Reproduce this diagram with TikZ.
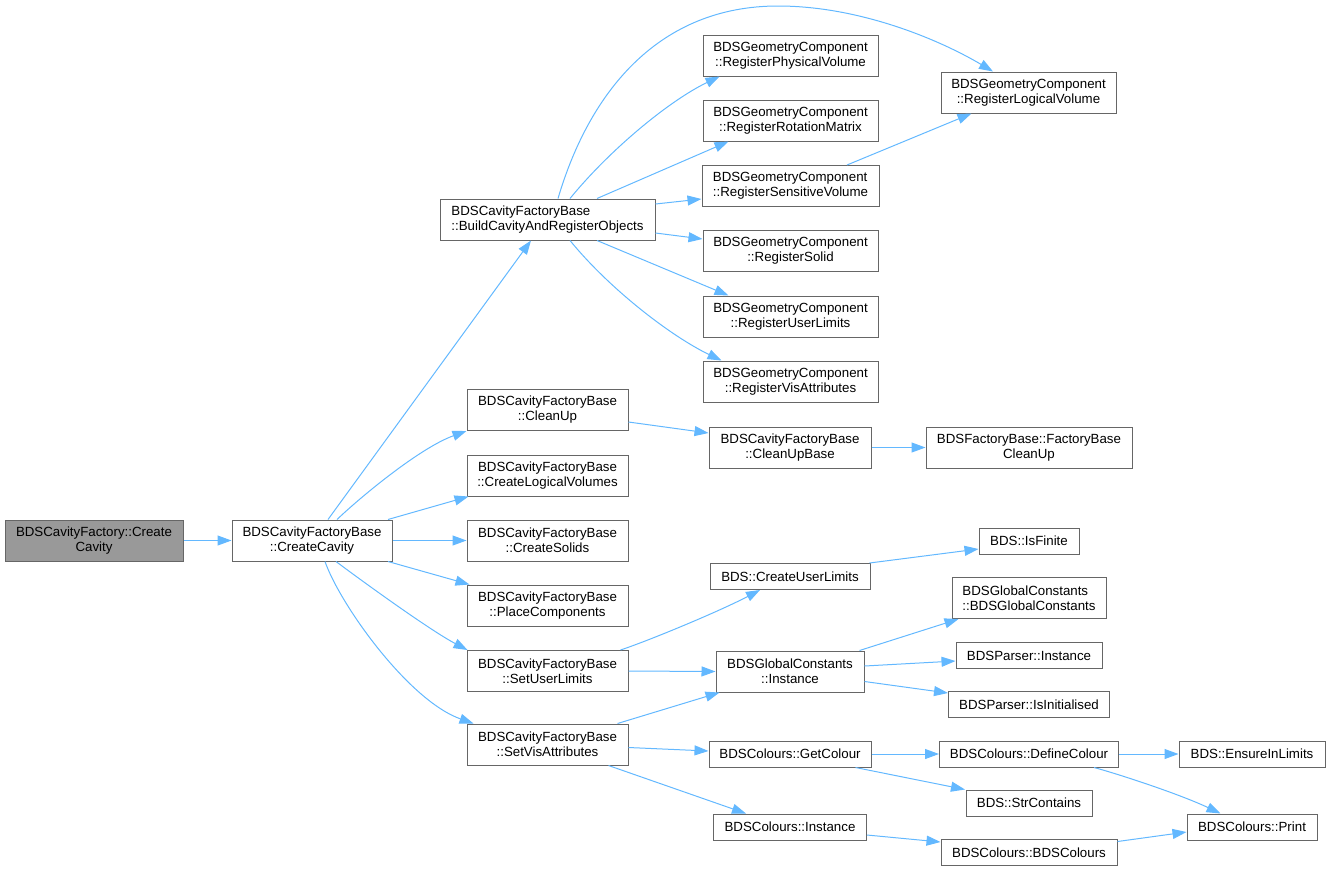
\documentclass[tikz,border=0pt]{standalone}
\usepackage{fontspec}
\setmainfont{Liberation Sans}
\usetikzlibrary{arrows.meta}
\definecolor{edgeblue}{HTML}{63B8FF}
\definecolor{boxgray}{HTML}{666666}
\definecolor{rootgray}{HTML}{999999}
\newcommand\boxfont{\fontsize{13.3}{15}\selectfont}
\tikzset{
  box/.style={draw=boxgray, fill=white, line width=1pt, inner sep=0pt, align=center, font=\boxfont},
  lbox/.style={box, align=left},
  two/.style={minimum height=41pt},
  one/.style={minimum height=26pt},
  edge/.style={draw=edgeblue, line width=1pt, -{Triangle[length=14pt,width=10pt]}}
}
\begin{document}
\begin{tikzpicture}[x=1pt,y=-1pt]
\useasboundingbox (0,0) rectangle (1330,871);
% nodes
\node[box,two,minimum width=178pt,fill=rootgray] (root) at (94,540.5) {BDSCavityFactory::Create\\Cavity};
\node[box,two,minimum width=160pt] (cc) at (312,540.5) {BDSCavityFactoryBase\\::CreateCavity};
\node[lbox,two,minimum width=215pt] (build) at (547.5,219.5) {BDSCavityFactoryBase\\::BuildCavityAndRegisterObjects};
\node[box,two,minimum width=161pt] (cleanup) at (547.5,410) {BDSCavityFactoryBase\\::CleanUp};
\node[box,two,minimum width=161pt] (clv) at (547.5,475.5) {BDSCavityFactoryBase\\::CreateLogicalVolumes};
\node[box,two,minimum width=161pt] (solids) at (547.5,540.5) {BDSCavityFactoryBase\\::CreateSolids};
\node[box,two,minimum width=161pt] (place) at (547.5,605.5) {BDSCavityFactoryBase\\::PlaceComponents};
\node[box,two,minimum width=161pt] (sul) at (547.5,671) {BDSCavityFactoryBase\\::SetUserLimits};
\node[box,two,minimum width=161pt] (sva) at (547.5,744.5) {BDSCavityFactoryBase\\::SetVisAttributes};

\node[box,two,minimum width=175pt] (phys) at (790.5,55.5) {BDSGeometryComponent\\::RegisterPhysicalVolume};
\node[box,two,minimum width=175pt] (rot) at (790.5,120.5) {BDSGeometryComponent\\::RegisterRotationMatrix};
\node[lbox,two,minimum width=177pt] (sens) at (790.5,186) {BDSGeometryComponent\\::RegisterSensitiveVolume};
\node[box,two,minimum width=175pt] (rsolid) at (790.5,251) {BDSGeometryComponent\\::RegisterSolid};
\node[box,two,minimum width=175pt] (rul) at (790.5,316.5) {BDSGeometryComponent\\::RegisterUserLimits};
\node[box,two,minimum width=175pt] (rvis) at (790.5,381.5) {BDSGeometryComponent\\::RegisterVisAttributes};
\node[box,two,minimum width=175pt] (rlv) at (1028.5,92.5) {BDSGeometryComponent\\::RegisterLogicalVolume};

\node[box,two,minimum width=162pt] (cub) at (790,447.5) {BDSCavityFactoryBase\\::CleanUpBase};
\node[box,two,minimum width=206pt] (fbc) at (1029,447.5) {BDSFactoryBase::FactoryBase\\CleanUp};

\node[box,one,minimum width=100pt] (isfin) at (1029,541) {BDS::IsFinite};
\node[box,one,minimum width=160pt] (cul) at (790,576.5) {BDS::CreateUserLimits};
\node[lbox,two,minimum width=154pt] (gcgc) at (1029,598) {BDSGlobalConstants\\::BDSGlobalConstants};
\node[box,one,minimum width=146pt] (pinst) at (1029,655.5) {BDSParser::Instance};
\node[box,one,minimum width=161pt] (pinit) at (1029,704.5) {BDSParser::IsInitialised};
\node[box,two,minimum width=148pt] (gci) at (790,671.5) {BDSGlobalConstants\\::Instance};
\node[box,one,minimum width=162pt] (getc) at (790,754) {BDSColours::GetColour};
\node[box,one,minimum width=179pt] (defc) at (1029,754) {BDSColours::DefineColour};
\node[box,one,minimum width=146pt] (ensure) at (1252,754) {BDS::EnsureInLimits};
\node[box,one,minimum width=126pt] (strc) at (1029,803) {BDS::StrContains};
\node[box,one,minimum width=130pt] (print) at (1252,827) {BDSColours::Print};
\node[box,one,minimum width=153pt] (cinst) at (790,827) {BDSColours::Instance};
\node[box,one,minimum width=176pt] (bdsc) at (1029,852.5) {BDSColours::BDSColours};

% edges
\draw[edge] (root.east) -- (cc.west);
\draw[edge] ([xshift=16pt]cc.north) -- ([xshift=-16.5pt]build.south);
\draw[edge] ([xshift=25pt]cc.north) .. controls +(23,-22) and +(-47,17) .. (cleanup.south west);
\draw[edge] ([xshift=76pt]cc.north) -- ([xshift=2pt]clv.south west);
\draw[edge] (cc.east) -- (solids.west);
\draw[edge] ([xshift=76pt]cc.south) -- ([xshift=3pt]place.north west);
\draw[edge] ([xshift=24pt]cc.south) .. controls +(24,18) and +(-38,-20) .. ([xshift=1pt]sul.north west);
\draw[edge] ([xshift=13pt]cc.south) .. controls +(15,43) and +(-65,-23) .. ([xshift=7pt]sva.north west);

\draw[edge] ([xshift=10.5pt]build.north) .. controls (590,90) and (660,6) .. (778,6) .. controls (860,6) and (940,40) .. ([xshift=-35.5pt]rlv.north);
\draw[edge] ([xshift=22.5pt]build.north) .. controls +(40,-49) and +(-50,24) .. ([xshift=17pt]phys.south west);
\draw[edge] ([xshift=49.5pt]build.north) -- ([xshift=26pt]rot.south west);
\draw[edge] ([yshift=15.5pt]build.east) -- ([yshift=-13pt]sens.west);
\draw[edge] ([yshift=-13.5pt]build.east) -- ([yshift=12pt]rsolid.west);
\draw[edge] ([xshift=49.5pt]build.south) -- ([xshift=26pt]rul.north west);
\draw[edge] ([xshift=22.5pt]build.south) .. controls +(40,49) and +(-50,-24) .. ([xshift=19pt]rvis.north west);
\draw[edge] ([xshift=56.5pt]sens.north) -- ([xshift=31pt]rlv.south west);

\draw[edge] ([yshift=-12pt]cleanup.east) -- ([yshift=14.5pt]cub.west);
\draw[edge] (cub.east) -- (fbc.west);

\draw[edge] ([xshift=-8pt]sul.north east) .. controls +(30,-10) and +(-40,21) .. ([xshift=-30pt]cul.south);
\draw[edge] (sul.east) -- (gci.west);
\draw[edge] ([xshift=-11pt]sva.north east) -- ([xshift=4pt]gci.south west);
\draw[edge] ([yshift=-3pt]sva.east) -- ([yshift=3pt]getc.west);
\draw[edge] ([xshift=-20pt]sva.south east) -- ([xshift=33pt]cinst.north west);

\draw[edge] ([xshift=-1pt]cul.north east) -- ([yshift=-8pt]isfin.west);
\draw[edge] ([xshift=-5pt]gci.north east) -- ([xshift=7pt]gcgc.south west);
\draw[edge] ([yshift=5.5pt]gci.east) -- ([yshift=-5.5pt]pinst.west);
\draw[edge] ([yshift=-10pt]gci.east) -- ([yshift=11.5pt]pinit.west);
\draw[edge] (getc.east) -- (defc.west);
\draw[edge] ([xshift=-16pt]getc.south east) -- ([xshift=-0.5pt]strc.north west);
\draw[edge] (defc.east) -- (ensure.west);
\draw[edge] ([xshift=-25pt]defc.south east) .. controls +(26,7) and +(-40,-19) .. ([xshift=34pt]print.north west);
\draw[edge] ([yshift=-8pt]cinst.east) -- ([yshift=10.5pt]bdsc.west);
\draw[edge] ([yshift=11pt]bdsc.east) -- ([yshift=-5pt]print.west);
\end{tikzpicture}
\end{document}
